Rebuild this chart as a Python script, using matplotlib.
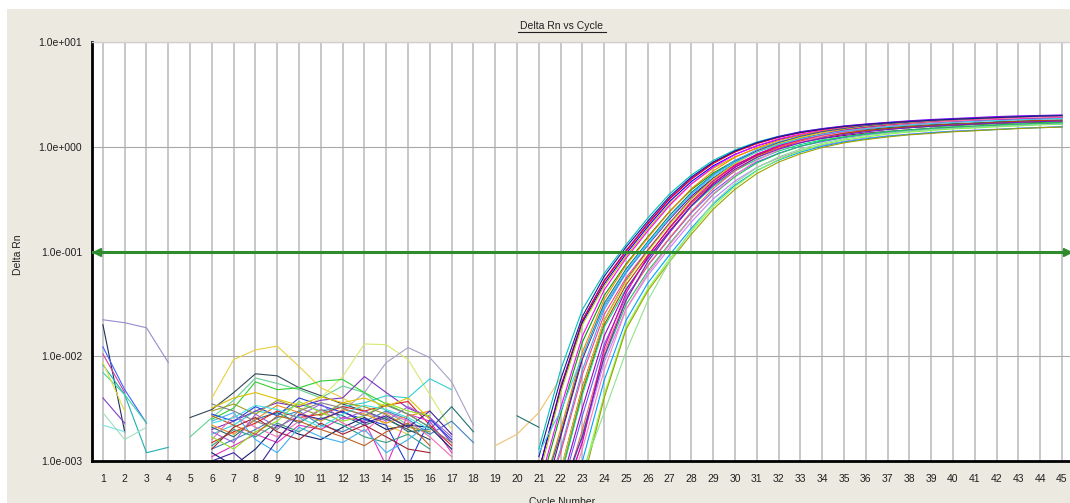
import numpy as np
import matplotlib
matplotlib.use('Agg')
import matplotlib.pyplot as plt
from matplotlib.patches import Rectangle
from matplotlib.lines import Line2D

nan = np.nan

# x axis / y axis labels
cycles = list(range(1, 46))
y_ticks = [1e-3, 1e-2, 1e-1, 1e0, 1e1]
y_tick_labels = ['1.0e-003', '1.0e-002', '1.0e-001', '1.0e+000', '1.0e+001']
threshold = 0.1

# early baseline noise, cycles 1-4
early_cycles = [1, 2, 3, 4]
early_values = [
    [0.0223, 0.0209, 0.0187, 0.0087],
    [0.0200, 0.0019, nan, nan],
    [0.0123, 0.0048, 0.0023, nan],
    [0.0083, 0.0043, 0.0012, 0.00135],
    [0.0070, 0.0043, 0.0023, nan],
    [0.0040, 0.0023, nan, nan],
    [0.0029, 0.0016, 0.0021, nan],
    [0.0022, 0.0019, nan, nan],
    [0.0105, 0.0045, nan, nan],
    [0.0087, 0.0030, nan, nan],
]
early_colors = ['#9a8ad0', '#203060', '#4060ff', '#20b0b0', '#40d0a0',
                '#8040c0', '#a0e0c0', '#80e0e0', '#d040a0', '#e0e040']

# baseline noise, cycles 5-18
mid_cycles = list(range(5, 19))
mid_values = [
    [0.0026, 0.0031, 0.0045, 0.0068, 0.0065, 0.0050, 0.0042, 0.0035, 0.0030, 0.0025, 0.0020, 0.0016, nan, nan],
    [0.0017, 0.0026, 0.0038, 0.0062, 0.0055, 0.0048, 0.0040, 0.0052, 0.0045, 0.0030, 0.0022, 0.0018, nan, nan],
    [nan, 0.0040, 0.0093, 0.0115, 0.0125, 0.0080, 0.0050, 0.0040, 0.0030, 0.0022, 0.0018, nan, nan, nan],
    [nan, nan, nan, nan, nan, 0.0030, 0.0040, 0.0064, 0.0131, 0.0129, 0.0093, 0.0043, 0.0020, nan],
    [nan, nan, nan, nan, nan, nan, 0.0025, 0.0030, 0.0045, 0.0087, 0.0121, 0.0097, 0.0057, 0.0022],
    [nan, 0.0018, 0.0022, 0.0030, 0.0028, 0.0035, 0.0030, 0.0033, 0.0036, 0.0042, 0.0040, 0.0061, 0.0048, nan],
    [nan, 0.0021, 0.0017, 0.0025, 0.0029, 0.0023, 0.0031, 0.0027, 0.0022, 0.0026, 0.0019, 0.0020, 0.0033, 0.0019],
    [nan, 0.0013, 0.0016, 0.0020, 0.0026, 0.0030, 0.0022, 0.0019, 0.0024, 0.0030, 0.0025, 0.0018, 0.0024, 0.0015],
    [nan, 0.0025, 0.0032, 0.0057, 0.0048, 0.0050, 0.0058, 0.0060, 0.0045, 0.0035, 0.0028, 0.0021, nan, nan],
    [nan, 0.0020, 0.0024, 0.0030, 0.0036, 0.0033, 0.0038, 0.0040, 0.0064, 0.0045, 0.0032, 0.0026, 0.0015, nan],
    [nan, 0.0015, 0.0019, 0.0023, 0.0030, 0.0026, 0.0028, 0.0033, 0.0030, 0.0034, 0.0037, 0.0022, 0.0014, nan],
    [nan, 0.0011, 0.0014, 0.0018, 0.0015, 0.0022, 0.0020, 0.0026, 0.0024, 0.0009, 0.0028, 0.0024, 0.0012, nan],
    [nan, 0.0028, 0.0024, 0.0033, 0.0027, 0.0040, 0.0034, 0.0029, 0.0025, 0.0022, 0.0009, 0.0025, 0.0016, nan],
    [nan, 0.0022, 0.0018, 0.0025, 0.0034, 0.0029, 0.0024, 0.0031, 0.0028, 0.0023, 0.0027, 0.0030, nan, nan],
    [nan, 0.0012, 0.0009, 0.0013, 0.0022, 0.0018, 0.0016, 0.0021, 0.0026, 0.0020, 0.0022, 0.0021, 0.0013, nan],
    [nan, 0.0016, 0.0027, 0.0021, 0.0017, 0.0024, 0.0031, 0.0023, 0.0019, 0.0029, 0.0024, 0.0017, 0.0011, nan],
    [nan, 0.0030, 0.0035, 0.0028, 0.0038, 0.0032, 0.0027, 0.0036, 0.0033, 0.0028, 0.0021, 0.0019, nan, nan],
    [nan, 0.0014, 0.0020, 0.0017, 0.0023, 0.0019, 0.0026, 0.0022, 0.0017, 0.0015, 0.0018, 0.0013, nan, nan],
    [nan, 0.0019, 0.0015, 0.0028, 0.0021, 0.0027, 0.0035, 0.0025, 0.0030, 0.0024, 0.0033, 0.0026, 0.0017, nan],
    [nan, 0.0024, 0.0029, 0.0016, 0.0012, 0.0021, 0.0017, 0.0015, 0.0020, 0.0012, 0.0016, 0.0023, nan, nan],
    [nan, 0.0013, 0.0021, 0.0026, 0.0019, 0.0016, 0.0023, 0.0018, 0.0022, 0.0017, 0.0013, 0.0012, nan, nan],
    [nan, 0.0017, 0.0013, 0.0019, 0.0024, 0.0037, 0.0029, 0.0024, 0.0027, 0.0036, 0.0030, 0.0027, nan, nan],
    [nan, 0.0027, 0.0022, 0.0018, 0.0027, 0.0024, 0.0020, 0.0017, 0.0014, 0.0019, 0.0023, 0.0014, nan, nan],
    [nan, 0.0010, 0.0012, 0.0008, 0.0016, 0.0028, 0.0025, 0.0030, 0.0023, 0.0027, 0.0021, 0.0030, 0.0018, nan],
    [nan, 0.0023, 0.0026, 0.0034, 0.0031, 0.0026, 0.0021, 0.0028, 0.0034, 0.0031, 0.0026, 0.0020, nan, nan],
    [nan, 0.0035, 0.0030, 0.0024, 0.0020, 0.0030, 0.0036, 0.0032, 0.0027, 0.0034, 0.0028, 0.0021, 0.0015, nan],
    [nan, 0.0032, 0.0040, 0.0045, 0.0039, 0.0034, 0.0041, 0.0036, 0.0040, 0.0033, 0.0040, 0.0025, nan, nan],
]
mid_colors = ['#304858', '#60d090', '#e8d040', '#d8e870', '#a8a0c8', '#30d0d0', '#207070',
              '#4080c0', '#30d030', '#8030c0', '#e02020', '#e030c0', '#2040e0', '#f09020',
              '#102070', '#f070b0', '#a0a020', '#30a080', '#a060e0', '#40b0f0', '#a02030',
              '#90e020', '#c06020', '#4020a0', '#40e0e0', '#808080', '#e0c000']

# short low segments before the rise
tail_values = [
    ([19, 20, 21, 22], [0.0014, 0.0018, 0.0029, 0.0062], '#f0c070'),
    ([20, 21], [0.0027, 0.0021], '#207070'),
]

# amplification curves, cycles 21-45
amp_cycles = list(range(21, 46))
amp_values = [
    [0.0013, 0.0074, 0.028, 0.062, 0.116, 0.209, 0.355, 0.537, 0.741, 0.933, 1.11, 1.26, 1.385, 1.485, 1.57, 1.635, 1.695, 1.75, 1.79, 1.83, 1.87, 1.905, 1.935, 1.955, 1.97],
    [0.0008, 0.0051, 0.022, 0.053, 0.102, 0.186, 0.322, 0.50, 0.706, 0.909, 1.09, 1.25, 1.39, 1.49, 1.58, 1.65, 1.71, 1.77, 1.82, 1.86, 1.90, 1.94, 1.97, 1.99, 2.01],
    [0.0008, 0.005, 0.022, 0.052, 0.100, 0.182, 0.316, 0.490, 0.692, 0.891, 1.07, 1.23, 1.36, 1.46, 1.55, 1.62, 1.68, 1.74, 1.78, 1.82, 1.86, 1.90, 1.93, 1.95, 1.97],
    [0.0008, 0.0048, 0.021, 0.049, 0.095, 0.173, 0.300, 0.466, 0.657, 0.846, 1.02, 1.17, 1.29, 1.39, 1.47, 1.54, 1.60, 1.65, 1.69, 1.73, 1.77, 1.80, 1.83, 1.85, 1.87],
    [0.0007, 0.0045, 0.020, 0.047, 0.090, 0.164, 0.284, 0.441, 0.623, 0.802, 0.963, 1.11, 1.22, 1.31, 1.40, 1.46, 1.51, 1.57, 1.60, 1.64, 1.67, 1.71, 1.74, 1.76, 1.77],
    [0.00057, 0.0032, 0.0156, 0.043, 0.086, 0.157, 0.275, 0.442, 0.638, 0.841, 1.02, 1.19, 1.32, 1.435, 1.53, 1.605, 1.665, 1.725, 1.77, 1.81, 1.85, 1.89, 1.92, 1.945, 1.965],
    [0.0005, 0.0028, 0.0137, 0.038, 0.076, 0.138, 0.242, 0.389, 0.561, 0.740, 0.898, 1.05, 1.16, 1.26, 1.35, 1.41, 1.47, 1.52, 1.56, 1.59, 1.63, 1.66, 1.69, 1.71, 1.73],
    [0.0004, 0.002, 0.011, 0.035, 0.074, 0.135, 0.240, 0.398, 0.589, 0.794, 0.977, 1.15, 1.29, 1.41, 1.51, 1.59, 1.65, 1.71, 1.76, 1.80, 1.84, 1.88, 1.91, 1.94, 1.96],
    [0.0004, 0.0018, 0.010, 0.032, 0.068, 0.124, 0.221, 0.366, 0.542, 0.730, 0.899, 1.06, 1.19, 1.30, 1.39, 1.46, 1.52, 1.57, 1.62, 1.66, 1.69, 1.73, 1.76, 1.78, 1.80],
    [0.0003, 0.0017, 0.0094, 0.030, 0.063, 0.115, 0.204, 0.338, 0.501, 0.675, 0.830, 0.978, 1.10, 1.20, 1.28, 1.35, 1.40, 1.45, 1.50, 1.53, 1.56, 1.60, 1.62, 1.65, 1.67],
    [0.0003, 0.0013, 0.0074, 0.028, 0.062, 0.116, 0.209, 0.355, 0.537, 0.741, 0.933, 1.11, 1.26, 1.385, 1.485, 1.57, 1.635, 1.695, 1.75, 1.79, 1.83, 1.87, 1.905, 1.935, 1.955],
    [0.0003, 0.0012, 0.0067, 0.025, 0.056, 0.104, 0.188, 0.320, 0.483, 0.667, 0.840, 1.00, 1.13, 1.25, 1.34, 1.41, 1.47, 1.53, 1.58, 1.61, 1.65, 1.68, 1.71, 1.74, 1.76],
    [0.0002, 0.0008, 0.0051, 0.022, 0.053, 0.102, 0.186, 0.322, 0.50, 0.706, 0.909, 1.09, 1.25, 1.39, 1.49, 1.58, 1.65, 1.71, 1.77, 1.82, 1.86, 1.90, 1.94, 1.97, 1.99],
    [0.0002, 0.0008, 0.005, 0.022, 0.052, 0.100, 0.182, 0.316, 0.490, 0.692, 0.891, 1.07, 1.23, 1.36, 1.46, 1.55, 1.62, 1.68, 1.74, 1.78, 1.82, 1.86, 1.90, 1.93, 1.95],
    [0.0002, 0.0007, 0.0046, 0.020, 0.048, 0.092, 0.167, 0.291, 0.451, 0.637, 0.820, 0.984, 1.13, 1.25, 1.34, 1.43, 1.49, 1.55, 1.60, 1.64, 1.67, 1.71, 1.75, 1.78, 1.79],
    [0.0002, 0.0007, 0.0043, 0.019, 0.044, 0.085, 0.155, 0.269, 0.417, 0.588, 0.757, 0.910, 1.05, 1.16, 1.24, 1.32, 1.38, 1.43, 1.48, 1.51, 1.55, 1.58, 1.62, 1.64, 1.66],
    [0.00014, 0.00057, 0.0032, 0.0156, 0.043, 0.086, 0.157, 0.275, 0.442, 0.638, 0.841, 1.02, 1.19, 1.32, 1.435, 1.53, 1.605, 1.665, 1.725, 1.77, 1.81, 1.85, 1.89, 1.92, 1.945],
    [0.0001, 0.0005, 0.0027, 0.013, 0.037, 0.073, 0.133, 0.234, 0.376, 0.542, 0.715, 0.867, 1.01, 1.12, 1.22, 1.30, 1.36, 1.42, 1.47, 1.50, 1.54, 1.57, 1.61, 1.63, 1.65],
    [0.0001, 0.0004, 0.002, 0.011, 0.035, 0.074, 0.135, 0.240, 0.398, 0.589, 0.794, 0.977, 1.15, 1.29, 1.41, 1.51, 1.59, 1.65, 1.71, 1.76, 1.80, 1.84, 1.88, 1.91, 1.94],
    [0.0001, 0.0004, 0.0018, 0.0097, 0.031, 0.065, 0.119, 0.211, 0.350, 0.518, 0.699, 0.860, 1.01, 1.14, 1.24, 1.33, 1.40, 1.45, 1.50, 1.55, 1.58, 1.62, 1.65, 1.68, 1.71],
    [0.0001, 0.0003, 0.0016, 0.0088, 0.028, 0.059, 0.108, 0.192, 0.318, 0.471, 0.635, 0.782, 0.920, 1.03, 1.13, 1.21, 1.27, 1.32, 1.37, 1.41, 1.44, 1.47, 1.50, 1.53, 1.55],
    [0.00014, 0.0003, 0.0013, 0.0074, 0.028, 0.062, 0.116, 0.209, 0.355, 0.537, 0.741, 0.933, 1.11, 1.26, 1.385, 1.485, 1.57, 1.635, 1.695, 1.75, 1.79, 1.83, 1.87, 1.905, 1.935],
    [0.0001, 0.0002, 0.001, 0.0059, 0.022, 0.050, 0.093, 0.167, 0.284, 0.430, 0.593, 0.746, 0.888, 1.01, 1.11, 1.19, 1.26, 1.31, 1.36, 1.40, 1.43, 1.46, 1.50, 1.52, 1.55],
    [0.0001, 0.0002, 0.0007, 0.0043, 0.019, 0.044, 0.085, 0.155, 0.269, 0.417, 0.588, 0.757, 0.910, 1.05, 1.16, 1.24, 1.32, 1.38, 1.43, 1.48, 1.51, 1.55, 1.58, 1.62, 1.64],
    [0.0001, 0.0002, 0.0006, 0.004, 0.018, 0.042, 0.080, 0.146, 0.253, 0.392, 0.554, 0.713, 0.856, 0.984, 1.09, 1.17, 1.24, 1.30, 1.34, 1.39, 1.42, 1.46, 1.49, 1.52, 1.54],
    [0.0002, 0.0004, 0.0015, 0.012, 0.040, 0.090, 0.170, 0.300, 0.470, 0.660, 0.850, 1.02, 1.17, 1.30, 1.40, 1.49, 1.56, 1.62, 1.67, 1.72, 1.76, 1.80, 1.83, 1.86, 1.88],
    [0.0002, 0.0005, 0.0017, 0.010, 0.034, 0.080, 0.152, 0.272, 0.430, 0.610, 0.790, 0.950, 1.09, 1.21, 1.31, 1.39, 1.46, 1.52, 1.57, 1.61, 1.65, 1.68, 1.71, 1.74, 1.76],
    [0.0001, 0.0003, 0.0008, 0.0029, 0.011, 0.034, 0.080, 0.160, 0.290, 0.450, 0.630, 0.800, 0.950, 1.08, 1.19, 1.28, 1.35, 1.41, 1.46, 1.50, 1.54, 1.57, 1.60, 1.63, 1.65],
    [0.0011, 0.0060, 0.024, 0.058, 0.110, 0.195, 0.335, 0.515, 0.715, 0.910, 1.09, 1.24, 1.37, 1.47, 1.56, 1.63, 1.69, 1.74, 1.79, 1.83, 1.86, 1.90, 1.93, 1.96, 1.98],
    [0.0012, 0.0030, 0.0100, 0.030, 0.065, 0.120, 0.210, 0.350, 0.520, 0.710, 0.890, 1.05, 1.19, 1.31, 1.41, 1.49, 1.56, 1.62, 1.67, 1.71, 1.75, 1.78, 1.81, 1.84, 1.86],
]
amp_colors = ['#00c0c0', '#8000ff', '#ff0000', '#0000ff', '#c0c000', '#ff00ff', '#00a000',
              '#ff8000', '#008080', '#800080', '#40a0ff', '#ff4080', '#4040a0', '#e0d000',
              '#c04000', '#00e080', '#a000c0', '#6060ff', '#ff6060', '#20c060', '#c080ff',
              '#ff80c0', '#00a0ff', '#80ff40', '#a0a000', '#e000a0', '#7020c0', '#90e090',
              '#102090', '#40d0f0']

W, H = 1070, 503
fig = plt.figure(figsize=(W / 100, H / 100), dpi=100, facecolor='white')
fig.patches.append(Rectangle((7 / W, 0), 1, 1 - 9 / H, transform=fig.transFigure,
                             facecolor='#ece9e0', edgecolor='none', zorder=-10))

ax = fig.add_axes([92 / W, 1 - 461 / H, 1 - 92 / W, (461 - 42) / H])
ax.set_facecolor('white')
ax.set_yscale('log')
ax.set_xlim(0.5, 45.37)
ax.set_ylim(1e-3, 1e1)

lw = 0.8
for vals, col in zip(early_values, early_colors):
    ax.plot(early_cycles, vals, color=col, lw=lw)
for vals, col in zip(mid_values, mid_colors):
    ax.plot(mid_cycles, vals, color=col, lw=lw)
for xs, vals, col in tail_values:
    ax.plot(xs, vals, color=col, lw=lw)
for vals, col in zip(amp_values, amp_colors):
    ax.plot(amp_cycles, vals, color=col, lw=lw)

# threshold line with arrow ends
green = '#2e8b2e'
ax.axhline(threshold, color=green, lw=2.2, zorder=5)
ax.plot([0.72], [threshold], marker='<', ms=6, color=green, clip_on=False, zorder=6)
ax.plot([45.25], [threshold], marker='>', ms=6, color=green, clip_on=False, zorder=6)

ax.set_xticks(cycles)
ax.set_xticklabels([str(c) for c in cycles])
ax.set_yticks(y_ticks)
ax.set_yticklabels(y_tick_labels)
ax.yaxis.set_minor_locator(matplotlib.ticker.NullLocator())
ax.tick_params(length=0, labelsize=7.5, colors='#202020')
ax.tick_params(axis='x', pad=9)
ax.tick_params(axis='y', pad=7)
for lab in ax.get_xticklabels() + ax.get_yticklabels():
    lab.set_fontfamily('Liberation Sans')

ax.grid(axis='x', color='#c4c4c4', lw=1.3, zorder=0)
ax.grid(axis='y', which='major', color='#a8a8a8', lw=0.8, zorder=0)
ax.set_axisbelow(True)

for s in ['top', 'right']:
    ax.spines[s].set_visible(False)
ax.spines['left'].set_linewidth(2)
ax.spines['bottom'].set_linewidth(2)
ax.spines['left'].set_color('black')
ax.spines['bottom'].set_color('black')
fig.add_artist(Line2D([92 / W, 1], [1 - 42 / H, 1 - 42 / H], color='#d0d0d0', lw=1))

# title with underline
fig.text(562 / W, 1 - 26 / H, 'Delta Rn vs Cycle', ha='center', va='center',
         fontsize=7.5, family='Liberation Sans', color='#202020')
fig.add_artist(Line2D([518 / W, 606 / W], [1 - 31.5 / H, 1 - 31.5 / H], color='#202020', lw=0.8))

fig.text(18 / W, 1 - 255 / H, 'Delta Rn', rotation=90, ha='center', va='center',
         fontsize=7.5, family='Liberation Sans', color='#202020')
fig.text(562 / W, 1 - 497 / H, 'Cycle Number', ha='center', va='top',
         fontsize=7.5, family='Liberation Sans', color='#202020')

fig.savefig('out.png', dpi=100, facecolor=fig.get_facecolor())
